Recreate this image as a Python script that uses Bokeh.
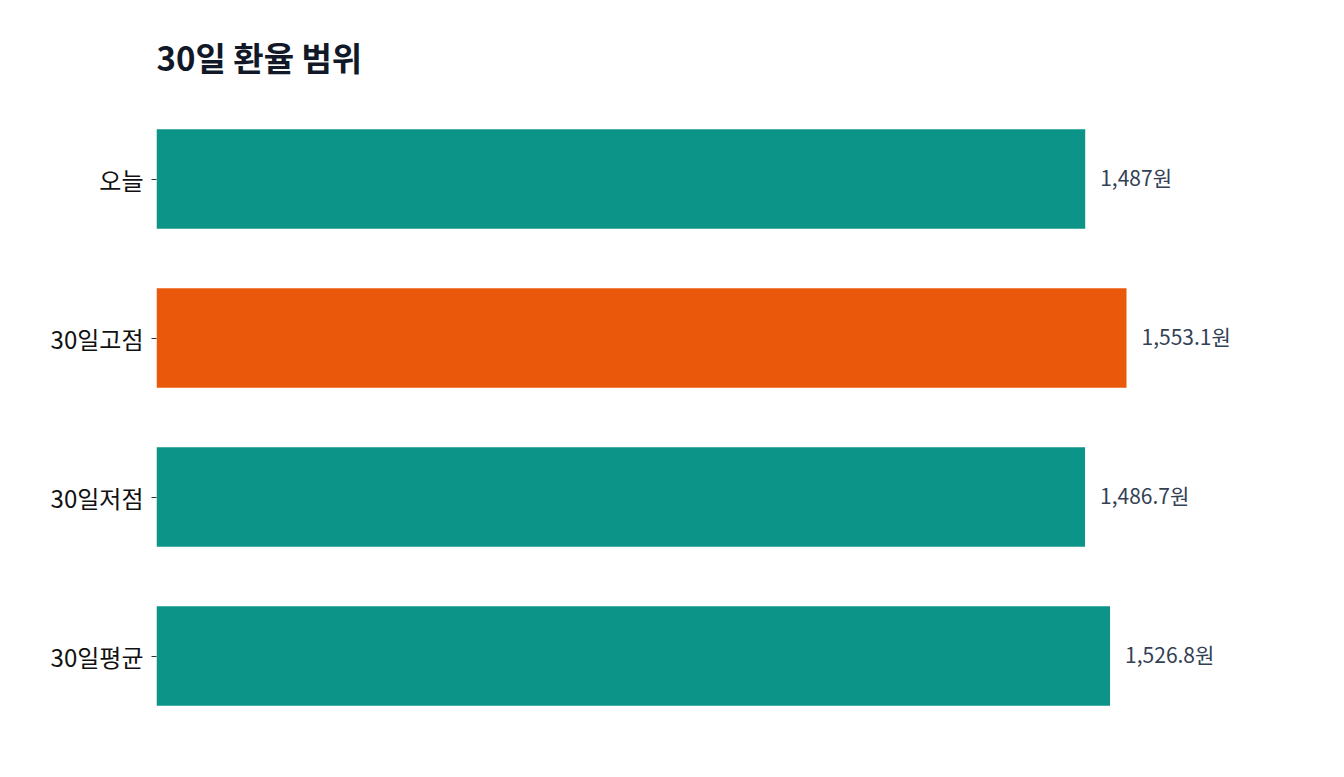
from bokeh.plotting import figure
from bokeh.models import ColumnDataSource, FactorRange, Range1d
from bokeh.core.properties import value
from bokeh.embed import file_html
from bokeh.resources import INLINE

categories = ["오늘", "30일고점", "30일저점", "30일평균"]
rates = [1487, 1553.1, 1486.7, 1526.8]
labels = ["1,487원", "1,553.1원", "1,486.7원", "1,526.8원"]
colors = ["#0d9488", "#ea580c", "#0d9488", "#0d9488"]

FONT = "Noto Sans CJK KR"

src = ColumnDataSource(dict(cat=categories, val=rates, lab=labels, col=colors))

p = figure(
    width=1335, height=769,
    y_range=FactorRange(*reversed(categories)),
    x_range=Range1d(0, max(rates) * 1.2),
    output_backend="svg", toolbar_location=None,
    min_border_left=156, min_border_right=15, min_border_bottom=34, min_border_top=99,
    title="30일 환율 범위",
)
p.hbar(y="cat", right="val", left=0, height=0.625, color="col", source=src, line_color=None)
p.text(x="val", y="cat", text="lab", source=src, x_offset=15, y_offset=-2, text_baseline="middle",
       text_align="left", text_font=value(FONT), text_font_size="21px", text_color="#334155")

p.title.text_font = FONT
p.title.text_font_size = "33px"
p.title.text_font_style = "bold"
p.title.text_color = "#111827"
p.title.align = "left"
p.title.standoff = 37

p.xaxis.visible = False
p.yaxis.axis_line_color = None
p.yaxis.major_tick_in = 0
p.yaxis.major_tick_out = 5
p.yaxis.major_tick_line_color = "#333333"
p.yaxis.major_label_text_font = FONT
p.yaxis.major_label_text_font_size = "24px"
p.yaxis.major_label_text_color = "#111111"
p.yaxis.major_label_standoff = 8
p.grid.visible = False
p.outline_line_color = None

open("out.html", "w").write(file_html(p, INLINE))
